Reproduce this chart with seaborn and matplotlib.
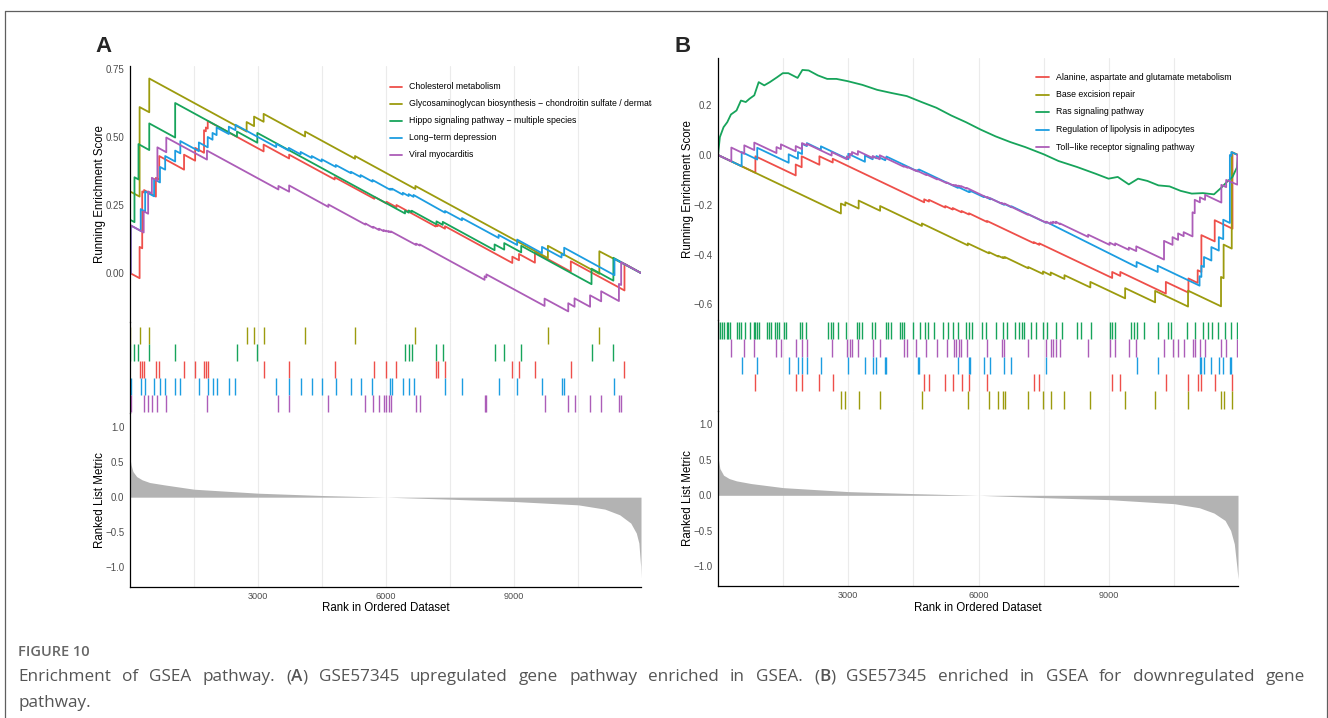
import numpy as np
import pandas as pd
import matplotlib
matplotlib.use("Agg")
import matplotlib.pyplot as plt
import seaborn as sns
from matplotlib.lines import Line2D
from matplotlib.transforms import Bbox

N_GENES = 11970

# ---------------- panel A (upregulated) ----------------
a_names = ["Cholesterol metabolism",
           "Glycosaminoglycan biosynthesis \u2212 chondroitin sulfate / dermatan sulfate",
           "Hippo signaling pathway \u2212 multiple species",
           "Long\u2212term depression",
           "Viral myocarditis"]

chol_rank = [225, 286, 330, 607, 685, 1266, 1526, 1734, 1777, 1821, 3130, 3728, 4794, 5722, 6008, 6242,
             7161, 7205, 7378, 8956, 9112, 9485, 10326, 11583]
chol_lo = [-0.019, 0.091, 0.296, 0.281, 0.343, 0.380, 0.413, 0.442, 0.521, 0.531, 0.447, 0.421, 0.344,
           0.273, 0.256, 0.242, 0.171, 0.172, 0.163, 0.037, 0.047, 0.038, 0.005, -0.064]
chol_hi = [0.096, 0.300, 0.305, 0.350, 0.430, 0.435, 0.460, 0.525, 0.535, 0.559, 0.472, 0.435, 0.352,
           0.280, 0.262, 0.250, 0.176, 0.178, 0.172, 0.060, 0.070, 0.077, 0.043, 0.034]

glyco_rank = [0, 225, 451, 2732, 2906, 3130, 4101, 5271, 6685, 9789, 10994]
glyco_lo = [0.0, 0.281, 0.591, 0.520, 0.540, 0.556, 0.502, 0.420, 0.309, 0.055, -0.003]
glyco_hi = [0.300, 0.610, 0.715, 0.555, 0.575, 0.585, 0.520, 0.430, 0.320, 0.100, 0.080]

hippo_rank = [0, 105, 199, 451, 1058, 2506, 2982, 6442, 6528, 6598, 7179, 7326, 8540, 8766, 9164,
              10811, 11323]
hippo_lo = [0.0, 0.187, 0.344, 0.452, 0.498, 0.501, 0.479, 0.219, 0.222, 0.224, 0.179, 0.177, 0.084,
            0.086, 0.076, -0.041, -0.028]
hippo_hi = [0.196, 0.352, 0.474, 0.550, 0.625, 0.520, 0.515, 0.229, 0.230, 0.229, 0.190, 0.188, 0.105,
            0.110, 0.100, 0.016, 0.056]

ltd_rank = [17, 251, 355, 564, 702, 824, 1058, 1179, 1613, 1821, 1933, 2029, 2315, 2471, 3425, 3720,
            3997, 4257, 4491, 4821, 5176, 5401, 5679, 6095, 6138, 6390, 6528, 6641, 7378, 7777, 8635,
            9069, 9650, 10109, 10170, 11349]
ltd_lo = [-0.001, 0.155, 0.226, 0.282, 0.333, 0.380, 0.410, 0.440, 0.448, 0.462, 0.490, 0.507, 0.511,
          0.525, 0.463, 0.450, 0.436, 0.423, 0.410, 0.390, 0.367, 0.353, 0.336, 0.306, 0.306, 0.288,
          0.283, 0.280, 0.222, 0.194, 0.129, 0.103, 0.073, 0.057, 0.065, -0.008]
ltd_hi = [0.175, 0.235, 0.300, 0.345, 0.390, 0.430, 0.450, 0.485, 0.480, 0.500, 0.515, 0.535, 0.538,
          0.545, 0.475, 0.460, 0.445, 0.430, 0.418, 0.397, 0.372, 0.360, 0.342, 0.310, 0.310, 0.295,
          0.290, 0.287, 0.228, 0.202, 0.140, 0.123, 0.096, 0.070, 0.093, 0.052]

viral_rank = [17, 321, 425, 512, 642, 850, 1803, 3477, 3728, 4647, 5514, 5696, 5835, 5939, 6000, 6060,
              6112, 6702, 6789, 8306, 8349, 9711, 10266, 10413, 10777, 11037, 11453, 11505]
viral_lo = [-0.001, 0.149, 0.218, 0.293, 0.339, 0.444, 0.417, 0.307, 0.299, 0.243, 0.178, 0.166, 0.158,
            0.154, 0.153, 0.151, 0.150, 0.103, 0.101, -0.025, -0.016, -0.121, -0.141, -0.124, -0.124,
            -0.104, -0.103, -0.044]
viral_hi = [0.175, 0.227, 0.300, 0.350, 0.462, 0.498, 0.450, 0.320, 0.322, 0.252, 0.182, 0.170, 0.163,
            0.158, 0.156, 0.154, 0.153, 0.108, 0.105, -0.012, -0.005, -0.094, -0.111, -0.093, -0.082,
            -0.067, -0.040, 0.040]

a_metric_rank = [1, 26, 69, 156, 286, 460, 806, 1500, 3000, 4500, 6000, 7500, 9000, 10500, 11123,
                 11470, 11730, 11860, 11920, 11962, 11970]
a_metric = [0.557, 0.46, 0.367, 0.295, 0.248, 0.21, 0.176, 0.114, 0.057, 0.024, 0.0, -0.029, -0.062,
            -0.11, -0.171, -0.252, -0.371, -0.514, -0.657, -0.99, -1.157]

# ---------------- panel B (downregulated) ----------------
b_names = ["Alanine, aspartate and glutamate metabolism",
           "Base excision repair",
           "Ras signaling pathway",
           "Regulation of lipolysis in adipocytes",
           "Toll\u2212like receptor signaling pathway"]

ala_rank = [861, 1789, 1926, 2334, 2641, 4746, 4856, 5231, 5402, 5606, 5777, 6194, 7268, 7396, 9074,
            9261, 10309, 10829, 11042, 11127, 11434, 11843]
ala_lo = [-0.071, -0.082, -0.049, -0.039, -0.030, -0.190, -0.187, -0.211, -0.219, -0.230, -0.239,
          -0.269, -0.354, -0.361, -0.494, -0.486, -0.557, -0.553, -0.514, -0.470, -0.347, -0.296]
ala_hi = [-0.005, -0.038, -0.005, -0.005, -0.015, -0.178, -0.180, -0.205, -0.213, -0.225, -0.234,
          -0.265, -0.350, -0.355, -0.470, -0.470, -0.510, -0.496, -0.463, -0.322, -0.262, 0.011]

ber_rank = [2829, 2931, 3238, 3732, 4694, 5751, 6237, 6450, 6560, 6603, 7140, 7481, 7659, 7975, 8571,
            9372, 10062, 10820, 11579, 11639, 11826]
ber_lo = [-0.235, -0.203, -0.215, -0.224, -0.285, -0.363, -0.395, -0.408, -0.414, -0.414, -0.455,
          -0.478, -0.483, -0.498, -0.532, -0.576, -0.592, -0.609, -0.608, -0.495, -0.376]
ber_hi = [-0.195, -0.190, -0.183, -0.205, -0.275, -0.355, -0.390, -0.405, -0.410, -0.410, -0.450,
          -0.468, -0.472, -0.483, -0.510, -0.535, -0.546, -0.545, -0.490, -0.360, 0.011]

ras_hits = [5, 43, 85, 145, 213, 239, 281, 426, 477, 528, 630, 733, 835, 861, 903, 937, 1125, 1176,
            1218, 1304, 1355, 1406, 1508, 1559, 1891, 1934, 2036, 2539, 2590, 2641, 2769, 2948, 3195,
            3238, 3306, 3544, 3604, 3860, 3919, 3987, 4192, 4243, 4277, 4490, 4643, 4754, 4839, 4967,
            5172, 5299, 5402, 5529, 5708, 5777, 5845, 6066, 6160, 6390, 6560, 6654, 6833, 6927, 7003,
            7055, 7216, 7319, 7472, 7574, 7787, 7924, 8273, 8367, 8588, 9014, 9074, 9150, 9500, 9585,
            9645, 9798, 10122, 10369, 10437, 10795, 10982, 11161, 11289, 11374, 11519, 11672, 11800,
            11945]
ras_rank = [0, 43, 128, 213, 298, 426, 528, 639, 724, 835, 937, 1065, 1193, 1363, 1491, 1619, 1832,
            1943, 2087, 2300, 2513, 2726, 2982, 3323, 3664, 4004, 4345, 4686, 5027, 5368, 5708, 6049,
            6390, 6731, 7072, 7498, 7838, 8264, 8690, 8989, 9202, 9457, 9670, 9883, 10139, 10394,
            10650, 10906, 11161, 11417, 11587, 11715, 11843, 11945, 11970]
ras_es = [0.0, 0.072, 0.112, 0.132, 0.163, 0.179, 0.219, 0.213, 0.226, 0.240, 0.293, 0.280, 0.293,
          0.313, 0.329, 0.329, 0.310, 0.342, 0.340, 0.320, 0.306, 0.306, 0.297, 0.282, 0.262, 0.249,
          0.237, 0.213, 0.190, 0.159, 0.132, 0.102, 0.075, 0.052, 0.032, 0.003, -0.024, -0.048,
          -0.075, -0.095, -0.088, -0.118, -0.095, -0.104, -0.122, -0.126, -0.144, -0.155, -0.153,
          -0.158, -0.131, -0.108, -0.088, -0.050, 0.0]

lipo_rank = [545, 903, 1627, 1840, 1934, 2045, 2369, 2999, 3382, 3561, 3647, 3851, 3877, 4601, 4626,
             5521, 5777, 5811, 6117, 6271, 6586, 6756, 7549, 9636, 10122, 11085, 11127, 11187, 11357,
             11528, 11630, 11783, 11817]
lipo_lo = [-0.045, -0.018, -0.031, -0.015, 0.004, 0.036, 0.021, -0.017, -0.027, -0.017, -0.013, -0.021,
           -0.014, -0.066, -0.062, -0.132, -0.149, -0.148, -0.169, -0.178, -0.200, -0.210, -0.272,
           -0.450, -0.470, -0.525, -0.490, -0.450, -0.424, -0.384, -0.338, -0.273, -0.003]
lipo_hi = [0.012, 0.029, 0.003, 0.012, 0.045, 0.048, 0.035, 0.005, -0.002, -0.006, -0.004, -0.012,
           -0.006, -0.060, -0.058, -0.128, -0.145, -0.144, -0.165, -0.174, -0.196, -0.206, -0.268,
           -0.430, -0.445, -0.487, -0.445, -0.410, -0.370, -0.330, -0.260, 0.000, 0.012]

toll_rank = [307, 605, 835, 1346, 1448, 1789, 1934, 2045, 2616, 2965, 3033, 3084, 3221, 3561, 3723,
             4277, 4362, 4558, 4788, 5044, 5265, 5427, 5478, 5538, 5598, 5725, 6203, 6526, 6594, 7131,
             7557, 7659, 7711, 7779, 7872, 8520, 9014, 9142, 9457, 9628, 10267, 10463, 10591, 10719,
             10923, 10974, 11093, 11212, 11587, 11698, 11954]
toll_lo = [-0.025, 0.005, 0.020, 0.008, 0.024, 0.015, 0.024, 0.039, -0.002, -0.017, -0.011, 0.001,
           0.001, -0.012, -0.017, -0.047, -0.051, -0.064, -0.080, -0.098, -0.113, -0.123, -0.124,
           -0.126, -0.128, -0.135, -0.172, -0.195, -0.198, -0.240, -0.272, -0.277, -0.274, -0.274,
           -0.278, -0.329, -0.361, -0.363, -0.381, -0.386, -0.420, -0.361, -0.341, -0.326, -0.327,
           -0.234, -0.190, -0.180, -0.191, -0.129, -0.119]
toll_hi = [0.030, 0.039, 0.050, 0.032, 0.043, 0.036, 0.048, 0.045, 0.012, -0.005, 0.005, 0.012, 0.016,
           -0.004, -0.001, -0.044, -0.048, -0.061, -0.077, -0.095, -0.110, -0.120, -0.121, -0.123,
           -0.125, -0.132, -0.169, -0.192, -0.195, -0.237, -0.268, -0.270, -0.268, -0.268, -0.275,
           -0.320, -0.352, -0.355, -0.372, -0.367, -0.345, -0.330, -0.315, -0.310, -0.230, -0.180,
           -0.170, -0.160, -0.120, -0.100, 0.001]

b_metric_rank = [1, 43, 128, 256, 426, 767, 1500, 3000, 4500, 6000, 7500, 9000, 10500, 11080, 11417,
                 11672, 11800, 11885, 11945, 11970]
b_metric = [0.54, 0.377, 0.283, 0.236, 0.203, 0.165, 0.108, 0.052, 0.024, 0.0, -0.033, -0.061, -0.118,
            -0.175, -0.25, -0.354, -0.495, -0.684, -1.014, -1.18]

colors = ["#EE4F4A", "#9C9B0E", "#17A45B", "#1C9DE1", "#AC5DB8"]

# ---------------- figure ----------------
sns.set_theme(style="white")
plt.rcParams["font.family"] = ["Liberation Sans", "DejaVu Sans"]

W, H = 1328, 718
fig = plt.figure(figsize=(W / 100, H / 100), dpi=100)
fig.patch.set_facecolor("white")

TICK_FS = 7.0
TITLE_FS = 8.3


def add_ax(x0, y0, x1, y1):
    return fig.add_axes([x0 / W, 1 - y1 / H, (x1 - x0) / W, (y1 - y0) / H])


def step_curve(ranks, lo, hi, end=0.0):
    xs, ys = [0], [0.0]
    for r, a, b in zip(ranks, lo, hi):
        xs += [r, r]
        ys += [a, b]
    xs.append(N_GENES)
    ys.append(end)
    return pd.DataFrame({"rank": xs, "es": ys})


def draw_panel(box, curves, hits, names, rug_order, rug_geo, es_lim, es_ticks, es_labels,
               m_rank, m_val, m_lim, leg, clip_right, ylab_x, xlab_y):
    x0, x1, y_top, y_m1, y_m2, y_bot = box
    ax1 = add_ax(x0, y_top, x1, y_m1)
    ax2 = add_ax(x0, y_m1, x1, y_m2)
    ax3 = add_ax(x0, y_m2, x1, y_bot)
    for ax in (ax1, ax2, ax3):
        ax.set_facecolor("none")
        ax.set_xlim(0, N_GENES)
        ax.set_xticks([3000, 6000, 9000])
        ax.set_xticks([1500, 4500, 7500, 10500], minor=True)
        ax.grid(axis="x", which="both", color="#EBEBEB", lw=0.8)
        ax.set_axisbelow(True)
        for s in ("top", "right", "bottom"):
            ax.spines[s].set_visible(False)
        ax.spines["left"].set_color("black")
        ax.spines["left"].set_linewidth(0.9)
        ax.tick_params(axis="x", which="both", length=0, labelbottom=False)
        ax.tick_params(axis="y", length=2.5, width=0.7, color="#333333", labelsize=TICK_FS,
                       labelcolor="#4D4D4D", pad=1.5)

    # running enrichment score
    for k, cur in enumerate(curves):
        sns.lineplot(data=cur, x="rank", y="es", ax=ax1, color=colors[k], linewidth=1.3,
                     sort=False, estimator=None, legend=False)
    ax1.set_ylim(*es_lim)
    ax1.set_yticks(es_ticks)
    ax1.set_yticklabels(es_labels)
    ax1.set_xlabel("")
    ax1.set_ylabel("Running Enrichment Score", fontsize=TITLE_FS, color="black")
    ax1.yaxis.set_label_coords(ylab_x, 0.5)

    # hit rug
    rug_h, off, row_h = rug_geo
    ax2.set_ylim(rug_h, 0)
    for row, k in enumerate(rug_order):
        ax2.vlines(hits[k], off + row * row_h, off + (row + 1) * row_h, color=colors[k], lw=1.0)
    ax2.tick_params(axis="y", left=False, labelleft=False)
    ax2.set_ylabel("")

    # ranked list metric
    ax3.fill_between(m_rank, m_val, 0, color="#B3B3B3", lw=0)
    ax3.set_ylim(*m_lim)
    ax3.set_yticks([-1.0, -0.5, 0.0, 0.5, 1.0])
    ax3.set_yticklabels(["\u22121.0", "\u22120.5", "0.0", "0.5", "1.0"])
    ax3.spines["bottom"].set_visible(True)
    ax3.spines["bottom"].set_color("black")
    ax3.spines["bottom"].set_linewidth(0.9)
    ax3.tick_params(axis="x", which="major", length=2.5, width=0.7, color="#333333",
                    labelbottom=True, labelsize=6.6, labelcolor="#4D4D4D", pad=1.0)
    ax3.set_xticklabels(["3000", "6000", "9000"])
    ax3.set_ylabel("Ranked List Metric", fontsize=TITLE_FS, color="black")
    ax3.yaxis.set_label_coords(ylab_x, 0.5)
    ax3.set_xlabel("Rank in Ordered Dataset", fontsize=TITLE_FS, color="black", va="top")
    ax3.xaxis.set_label_coords(0.5, xlab_y)

    # legend
    lx0, lx1, tx, rows = leg
    clip = Bbox.from_extents(0, 0, clip_right, H)
    for k in range(len(names)):
        yy = 1 - rows[k] / H
        fig.add_artist(Line2D([lx0 / W, lx1 / W], [yy, yy], transform=fig.transFigure,
                              color=colors[k], lw=1.3))
        t = fig.text(tx / W, yy, names[k], fontsize=6.3, va="center", ha="left", color="black")
        t.set_clip_box(clip)
        t.set_clip_on(True)


curves_a = [step_curve(chol_rank, chol_lo, chol_hi),
            step_curve(glyco_rank, glyco_lo, glyco_hi),
            step_curve(hippo_rank, hippo_lo, hippo_hi),
            step_curve(ltd_rank, ltd_lo, ltd_hi),
            step_curve(viral_rank, viral_lo, viral_hi)]
hits_a = [chol_rank, glyco_rank, hippo_rank, ltd_rank, viral_rank]

draw_panel((130, 641, 66, 322, 413, 587), curves_a, hits_a, a_names, [1, 2, 0, 3, 4], (91, 5, 17),
           (-0.18, 0.761), [0.0, 0.25, 0.5, 0.75], ["0.00", "0.25", "0.50", "0.75"],
           a_metric_rank, a_metric, (-1.286, 1.205),
           (390, 402, 409, [86.5, 103.5, 120.5, 137.5, 154.5]), 652, -0.047, -0.088)

curves_b = [step_curve(ala_rank, ala_lo, ala_hi),
            step_curve(ber_rank, ber_lo, ber_hi),
            pd.DataFrame({"rank": ras_rank, "es": ras_es}),
            step_curve(lipo_rank, lipo_lo, lipo_hi),
            step_curve(toll_rank, toll_lo, toll_hi)]
hits_b = [ala_rank, ber_rank, ras_hits, lipo_rank, toll_rank]

draw_panel((718, 1238, 58, 320, 411, 586), curves_b, hits_b, b_names, [2, 4, 3, 0, 1], (91, 2, 17.3),
           (-0.663, 0.39), [-0.6, -0.4, -0.2, 0.0, 0.2],
           ["\u22120.6", "\u22120.4", "\u22120.2", "0.0", "0.2"],
           b_metric_rank, b_metric, (-1.277, 1.187),
           (1036, 1049, 1056, [77, 94.5, 112, 129.5, 147]), W, -0.046, -0.092)

# panel letters
fig.text(103 / W, 1 - 46 / H, "A", fontsize=16, fontweight="bold", ha="center", va="center")
fig.text(683 / W, 1 - 46 / H, "B", fontsize=16, fontweight="bold", ha="center", va="center")

# outer frame (open at the bottom)
frame_kw = dict(transform=fig.transFigure, color="#5F5F5F", lw=0.9)
fig.add_artist(Line2D([4.5 / W, 4.5 / W], [0, 1 - 11 / H], **frame_kw))
fig.add_artist(Line2D([4.5 / W, 1326.5 / W], [1 - 11 / H, 1 - 11 / H], **frame_kw))
fig.add_artist(Line2D([1326.5 / W, 1326.5 / W], [0, 1 - 11 / H], **frame_kw))

# caption
cap_family = ["Open Sans", "DejaVu Sans"]
CAP_FS = 12.3
fig.text(18 / W, 1 - 652 / H, "FIGURE 10", family=cap_family, fontsize=10.5, fontweight="semibold",
         color="#666666", va="center")

line1 = ("Enrichment of GSEA pathway. (A) GSE57345 upregulated gene pathway enriched in GSEA. "
         "(B) GSE57345 enriched in GSEA for downregulated gene")
renderer = fig.canvas.get_renderer()


def word_parts(w):
    if w in ("(A)", "(B)"):
        return [("(", "normal"), (w[1], "semibold"), (")", "normal")]
    return [(w, "normal")]


def text_width(s, weight):
    t = fig.text(0, 0, s, family=cap_family, fontsize=CAP_FS, fontweight=weight)
    w = t.get_window_extent(renderer).width
    t.remove()
    return w


words = [word_parts(w) for w in line1.split()]
widths = [sum(text_width(s, wt) for s, wt in parts) for parts in words]
gap = (1305 - 18 - sum(widths)) / (len(words) - 1)
x = 18.0
for parts, w in zip(words, widths):
    cx = x
    for s, wt in parts:
        fig.text(cx / W, 1 - 677 / H, s, family=cap_family, fontsize=CAP_FS, fontweight=wt,
                 color="#555555", va="center")
        cx += text_width(s, wt)
    x += w + gap

fig.text(18 / W, 1 - 703 / H, "pathway.", family=cap_family, fontsize=CAP_FS, color="#555555",
         va="center")

fig.savefig("out.png", dpi=100, facecolor="white")
